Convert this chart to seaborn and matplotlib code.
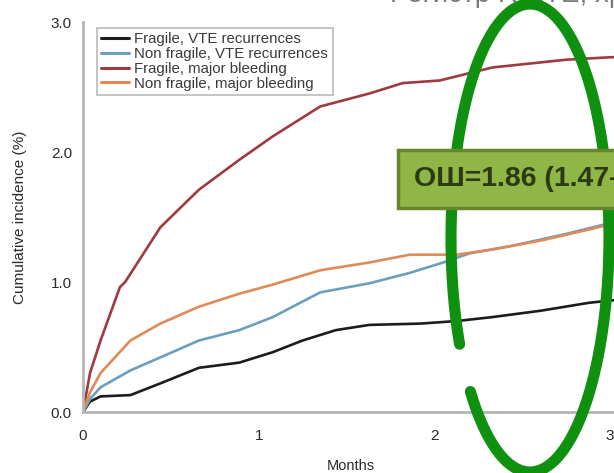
import numpy as np
import pandas as pd
import matplotlib
matplotlib.use("Agg")
import matplotlib.pyplot as plt
from matplotlib.lines import Line2D
from matplotlib.patches import Rectangle
import seaborn as sns

# Cumulative incidence (%) over follow-up (months)
series_names = [
    "Fragile, VTE recurrences",
    "Non fragile, VTE recurrences",
    "Fragile, major bleeding",
    "Non fragile, major bleeding",
]

months_fragile_vte = [0, 0.04, 0.10, 0.27, 0.44, 0.66, 0.89, 1.08, 1.25, 1.44, 1.63, 1.92, 2.13, 2.33, 2.61, 2.88, 3.02]
fragile_vte = [0, 0.08, 0.12, 0.13, 0.22, 0.34, 0.38, 0.46, 0.55, 0.63, 0.67, 0.68, 0.70, 0.73, 0.78, 0.84, 0.86]

months_nonfragile_vte = [0, 0.04, 0.10, 0.27, 0.44, 0.66, 0.89, 1.08, 1.35, 1.63, 1.86, 2.05, 2.20, 2.45, 2.75, 3.02]
nonfragile_vte = [0, 0.10, 0.19, 0.32, 0.42, 0.55, 0.63, 0.73, 0.92, 0.99, 1.07, 1.15, 1.22, 1.28, 1.37, 1.46]

months_fragile_bleed = [0, 0.04, 0.10, 0.21, 0.24, 0.44, 0.66, 0.89, 1.08, 1.35, 1.63, 1.82, 2.03, 2.33, 2.75, 3.02]
fragile_bleed = [0, 0.30, 0.55, 0.96, 1.00, 1.42, 1.71, 1.94, 2.12, 2.35, 2.45, 2.53, 2.55, 2.65, 2.71, 2.73]

months_nonfragile_bleed = [0, 0.04, 0.10, 0.27, 0.44, 0.66, 0.89, 1.08, 1.35, 1.63, 1.86, 2.13, 2.33, 2.61, 2.90, 3.02]
nonfragile_bleed = [0, 0.15, 0.30, 0.55, 0.68, 0.81, 0.91, 0.98, 1.09, 1.15, 1.21, 1.21, 1.25, 1.32, 1.41, 1.45]

y_ticks = [0, 1, 2, 3]
y_tick_labels = ["0.0", "1.0", "2.0", "3.0"]
x_ticks = [0, 1, 2, 3]
x_tick_labels = ["0", "1", "2", "3"]

odds_ratio_text = "ОШ=1.86 (1.47–2.35)"
header_text = "Регистр RIETE, хрупкие пациенты"

frames = []
for name, m, v in zip(
    series_names,
    [months_fragile_vte, months_nonfragile_vte, months_fragile_bleed, months_nonfragile_bleed],
    [fragile_vte, nonfragile_vte, fragile_bleed, nonfragile_bleed],
):
    frames.append(pd.DataFrame({"Months": m, "Incidence": v, "Group": name}))
df = pd.concat(frames, ignore_index=True)

palette = {
    series_names[0]: "#1c1c1c",
    series_names[1]: "#6a9fbd",
    series_names[2]: "#9e3a40",
    series_names[3]: "#e08a58",
}

sns.set_style("white")
plt.rcParams["font.family"] = ["Liberation Sans", "DejaVu Sans"]

W, H = 614, 473
fig = plt.figure(figsize=(W / 100, H / 100), dpi=100)
fig.patch.set_facecolor("white")

px_per_month = (610 - 83) / 3
x_max = 3.05
ax = fig.add_axes([83 / W, (H - 412) / H, x_max * px_per_month / W, (412 - 22) / H])

sns.lineplot(
    data=df, x="Months", y="Incidence", hue="Group", hue_order=series_names,
    palette=palette, estimator=None, sort=False, linewidth=1.9, ax=ax,
)

ax.set_xlim(0, x_max)
ax.set_ylim(0, 3.0)
ax.set_xticks(x_ticks)
ax.set_xticklabels(x_tick_labels)
ax.set_xticks([0.5, 1.5, 2.5], minor=True)
ax.set_yticks(y_ticks)
ax.set_yticklabels(y_tick_labels)

for side in ["top", "right"]:
    ax.spines[side].set_visible(False)
for side in ["left", "bottom"]:
    ax.spines[side].set_color("#b5b5b5")
    ax.spines[side].set_linewidth(2.0)

ax.tick_params(axis="both", which="both", direction="out", length=3, width=1,
               color="#b5b5b5", labelcolor="#2a2a2a", labelsize=11)
ax.tick_params(axis="x", which="major", pad=9)
ax.tick_params(axis="y", which="major", pad=5)

ax.set_xlabel("Months", fontsize=10.5, color="#2a2a2a", labelpad=12)
ax.set_ylabel("Cumulative incidence (%)", fontsize=11, color="#2a2a2a", labelpad=17)

leg = ax.legend(
    loc="upper left", bbox_to_anchor=(97 / W, 1 - 28 / H), bbox_transform=fig.transFigure,
    borderaxespad=0, frameon=True, fancybox=False, fontsize=10.8, labelspacing=0.05,
    handlelength=1.8, handletextpad=0.4, borderpad=0.3, title=None,
)
leg.get_frame().set_edgecolor("#a8a8a8")
leg.get_frame().set_linewidth(1.2)
for t in leg.get_texts():
    t.set_color("#3a3a3a")
for h in leg.get_lines():
    h.set_linewidth(2.2)

# Header line running off the top of the slide
fig.text(390 / W, 1 - 2 / H, header_text, fontsize=20, color="#7a7a7a",
         ha="left", va="baseline")

# Hand-drawn green ellipse (pixel geometry, y measured from the bottom)
cx, cy, a, b = 530, H - 238, 79, 234
t = np.deg2rad(np.linspace(221, 567, 400))
ex = cx + a * np.cos(t)
ey = cy + b * np.sin(t)
fig.add_artist(Line2D(ex / W, ey / H, transform=fig.transFigure,
                      color="#0f900f", linewidth=8, solid_capstyle="round", zorder=5))

# Odds-ratio callout box
box = Rectangle((398 / W, (H - 208) / H), 260 / W, 58 / H, transform=fig.transFigure,
                facecolor="#8fb646", edgecolor="#66852c", linewidth=2.5, zorder=6)
fig.add_artist(box)
fig.text(414 / W, (H - 179) / H, odds_ratio_text, fontsize=20.5, fontweight="bold",
         color="#2c3a12", ha="left", va="center", zorder=7)

fig.savefig("out.png", dpi=100)
